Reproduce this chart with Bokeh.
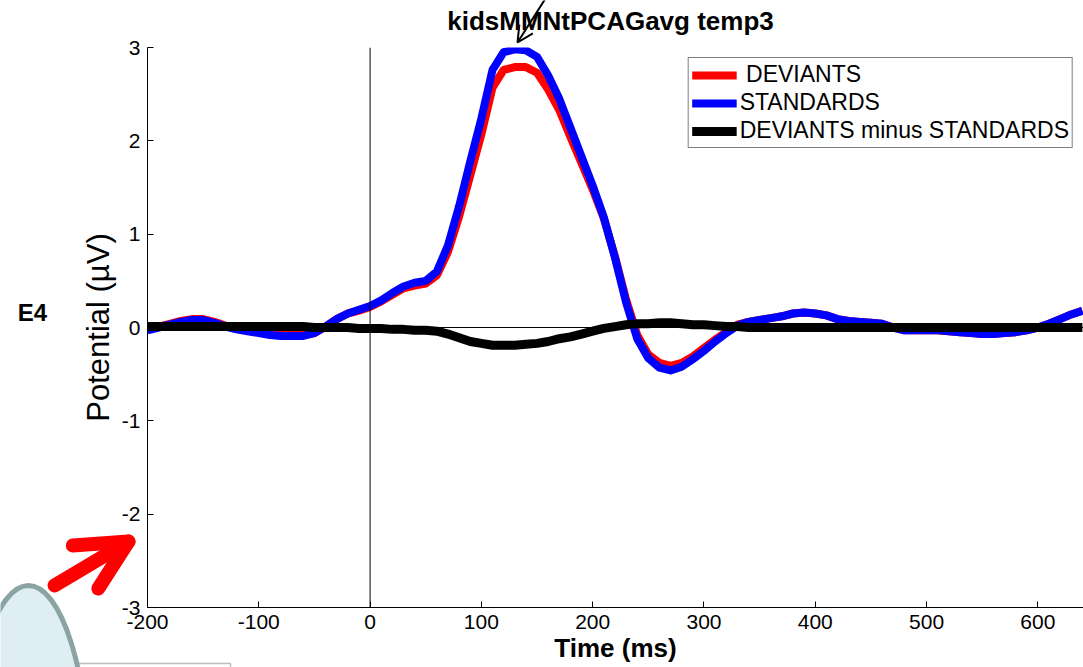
from bokeh.plotting import figure
from bokeh.models import (Range1d, Span, Arrow, OpenHead, Legend, LegendItem,
                          FixedTicker, PrintfTickFormatter, GridBox, Column)
from bokeh.core.properties import value
from bokeh.embed import file_html
from bokeh.resources import INLINE

# ---------------- data ----------------
time_ms = list(range(-200, 650, 10))

standards = [
    -0.03, 0.00, 0.03, 0.06, 0.08, 0.08, 0.05, 0.01, -0.02, -0.04,   # -200..-110
    -0.06, -0.08, -0.09, -0.09, -0.09, -0.06, 0.01, 0.09, 0.15, 0.19,  # -100..-10
    0.23, 0.29, 0.37, 0.44, 0.48, 0.50, 0.60, 0.88, 1.30, 1.78,        # 0..90
    2.24, 2.76, 2.95, 2.98, 2.97, 2.90, 2.70, 2.45, 2.14, 1.83,        # 100..190
    1.52, 1.18, 0.75, 0.27, -0.12, -0.33, -0.43, -0.46, -0.42, -0.34,  # 200..290
    -0.25, -0.15, -0.06, 0.02, 0.06, 0.08, 0.10, 0.12, 0.15, 0.16,     # 300..390
    0.15, 0.13, 0.09, 0.07, 0.06, 0.05, 0.04, 0.00, -0.03, -0.03,      # 400..490
    -0.03, -0.03, -0.04, -0.05, -0.06, -0.07, -0.07, -0.06, -0.05, -0.03,  # 500..590
    0.00, 0.04, 0.09, 0.14, 0.18,                                      # 600..640
]

deviants = [
    -0.02, 0.01, 0.04, 0.07, 0.09, 0.09, 0.06, 0.02, -0.01, -0.03,
    -0.05, -0.07, -0.08, -0.08, -0.08, -0.06, 0.01, 0.09, 0.15, 0.18,
    0.22, 0.28, 0.35, 0.42, 0.45, 0.47, 0.56, 0.81, 1.19, 1.63,
    2.07, 2.57, 2.76, 2.79, 2.79, 2.73, 2.55, 2.33, 2.04, 1.76,
    1.48, 1.17, 0.76, 0.30, -0.08, -0.29, -0.38, -0.41, -0.38, -0.31,
    -0.22, -0.13, -0.05, 0.03, 0.06, 0.08, 0.10, 0.12, 0.15, 0.16,
    0.15, 0.13, 0.09, 0.07, 0.06, 0.05, 0.04, 0.00, -0.03, -0.03,
    -0.03, -0.03, -0.04, -0.05, -0.06, -0.07, -0.07, -0.06, -0.05, -0.03,
    0.00, 0.04, 0.09, 0.14, 0.18,
]

difference = [
    0.01, 0.01, 0.01, 0.01, 0.01, 0.01, 0.01, 0.01, 0.01, 0.01,
    0.01, 0.01, 0.01, 0.01, 0.01, 0.00, 0.00, 0.00, 0.00, -0.01,
    -0.01, -0.01, -0.02, -0.02, -0.03, -0.03, -0.04, -0.07, -0.11, -0.15,
    -0.17, -0.19, -0.19, -0.19, -0.18, -0.17, -0.15, -0.12, -0.10, -0.07,
    -0.04, -0.01, 0.01, 0.03, 0.04, 0.04, 0.05, 0.05, 0.04, 0.03,
    0.03, 0.02, 0.01, 0.01, 0.00, 0.00, 0.00, 0.00, 0.00, 0.00,
    0.00, 0.00, 0.00, 0.00, 0.00, 0.00, 0.00, 0.00, 0.00, 0.00,
    0.00, 0.00, 0.00, 0.00, 0.00, 0.00, 0.00, 0.00, 0.00, 0.00,
    0.00, 0.00, 0.00, 0.00, 0.00,
]

x_ticks = [-200, -100, 0, 100, 200, 300, 400, 500, 600]
y_ticks = [-3, -2, -1, 0, 1, 2, 3]

title_text = "kidsMMNtPCAGavg temp3"
series_labels = [" DEVIANTS", "STANDARDS", "DEVIANTS minus STANDARDS"]
channel_label = "E4"

FONT = "Liberation Sans"
W, H = 1083, 667

# ---------------- main chart ----------------
p = figure(width=W, height=H, output_backend="svg", toolbar_location=None,
           x_range=Range1d(-200, 641), y_range=Range1d(-3, 3),
           min_border_left=147, min_border_right=0, min_border_top=47,
           min_border_bottom=60)
p.outline_line_color = None
p.xgrid.visible = False
p.ygrid.visible = False
p.background_fill_color = "white"
p.border_fill_color = "white"

for ax in (p.xaxis[0], p.yaxis[0]):
    ax.major_tick_in = 6
    ax.major_tick_out = 0
    ax.minor_tick_line_color = None
    ax.axis_line_color = "black"
    ax.major_tick_line_color = "black"
    ax.major_label_text_font = FONT
    ax.major_label_text_font_size = "21px"
    ax.major_label_text_color = "black"
    ax.axis_label_text_font = FONT
    ax.axis_label_text_color = "black"
    ax.formatter = PrintfTickFormatter(format="%d")

p.xaxis.ticker = FixedTicker(ticks=x_ticks)
p.yaxis.ticker = FixedTicker(ticks=y_ticks)
p.xaxis.major_label_standoff = 7
p.yaxis.major_label_standoff = 7
p.xaxis.axis_label = "Time (ms)"
p.xaxis.axis_label_text_font_size = "26px"
p.xaxis.axis_label_text_font_style = "bold"
p.xaxis.axis_label_standoff = 1
p.yaxis.axis_label = "Potential (\u00b5V)"
p.yaxis.axis_label_text_font_size = "31px"
p.yaxis.axis_label_text_font_style = "normal"
p.yaxis.axis_label_standoff = 3

# reference lines
p.add_layout(Span(location=0, dimension="width", line_color="black", line_width=1))
p.add_layout(Span(location=0, dimension="height", line_color="black", line_width=1))

r_dev = p.line(time_ms, deviants, line_color="#ff0000", line_width=8, line_join="round")
r_std = p.line(time_ms, standards, line_color="#0000ff", line_width=8, line_join="round")
r_dif = p.line(time_ms, difference, line_color="black", line_width=9, line_join="round")

legend = Legend(items=[LegendItem(label=series_labels[0], renderers=[r_dev]),
                       LegendItem(label=series_labels[1], renderers=[r_std]),
                       LegendItem(label=series_labels[2], renderers=[r_dif])],
                location="top_right")
legend.label_text_font = FONT
legend.label_text_font_size = "23px"
legend.label_text_color = "black"
legend.glyph_width = 45
legend.glyph_height = 22
legend.label_height = 22
legend.label_standoff = 3
legend.spacing = 1
legend.padding = 3
legend.margin = 10
legend.border_line_color = "black"
legend.border_line_width = 1
legend.background_fill_alpha = 1
p.add_layout(legend)

# ---------------- title and slide decorations (transparent overlay, pixel coordinates) -----
ov = figure(width=W, height=H, output_backend="svg", toolbar_location=None,
            x_range=Range1d(0, W), y_range=Range1d(H, 0),
            x_axis_location=None, y_axis_location=None,
            min_border=0, min_border_left=0, min_border_right=0,
            min_border_top=0, min_border_bottom=0)
ov.xgrid.visible = False
ov.ygrid.visible = False
ov.outline_line_color = None
ov.background_fill_alpha = 0
ov.border_fill_alpha = 0

# chart title
ov.text(x=[610], y=[20], text=[title_text], text_font=value(FONT), text_font_size="26px",
        text_font_style="bold", text_align="center", text_baseline="middle",
        text_color="black")

# channel name
ov.text(x=[32], y=[312], text=[channel_label], text_font=value(FONT), text_font_size="24px",
        text_font_style="bold", text_align="center", text_baseline="middle", text_color="black")

# small thumbnail box and light-blue oval in the lower left corner
ov.quad(left=[70], right=[230], top=[663], bottom=[690], fill_color="white",
        line_color="#bdbdbd", line_width=1.5)
ov.ellipse(x=[28], y=[785], width=[122], height=[400], fill_color="#deeef2",
           line_color="#8aa4a4", line_width=5)

# black pointer to the title peak
ov.add_layout(Arrow(x_start=545, y_start=-2, x_end=517, y_end=42,
                    line_color="black", line_width=2,
                    end=OpenHead(size=16, line_color="black", line_width=2)))
# red arrow
ov.add_layout(Arrow(x_start=54, y_start=585, x_end=128, y_end=541,
                    line_color="#ff0000", line_width=14, line_cap="round",
                    end=OpenHead(size=50, line_color="#ff0000", line_width=14,
                                 line_cap="round", line_join="round")))

layout = GridBox(children=[(p, 0, 0), (Column(children=[ov], width=W, height=H), 0, 0)],
                 width=W, height=H)

open("out.html", "w").write(file_html(layout, INLINE))
